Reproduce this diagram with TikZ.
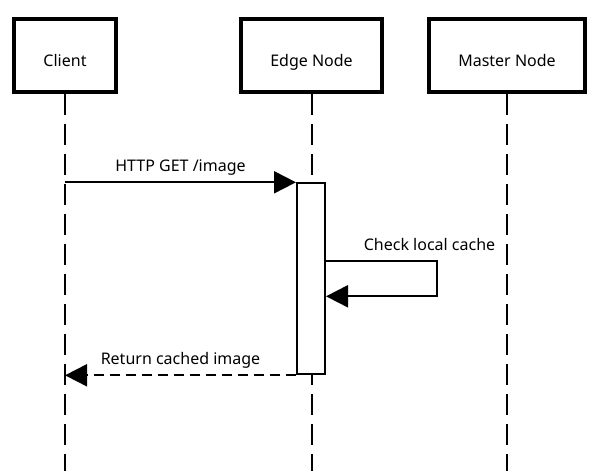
\documentclass[tikz,border=0pt]{standalone}
\usepackage{fontspec}
\setmainfont{Noto Sans}
\usepackage{tikz}
\usetikzlibrary{arrows.meta, positioning}
\tikzstyle{actor} = [rectangle, minimum height=73pt, text centered, text height=22pt, text depth=0pt, draw=black, line width=3.5pt, fill=white]
\tikzstyle{lifeline} = [line width=2pt, dash pattern=on 21pt off 9pt]
\tikzstyle{bar} = [rectangle, minimum width=28pt, minimum height=191pt, draw=black, line width=2pt, fill=white, inner sep=0pt]
\tikzstyle{msg} = [line width=2pt, -{Triangle[length=22pt,width=22pt]}]
\tikzstyle{reply} = [msg, dash pattern=on 10pt off 6pt]
\tikzstyle{lbl} = [above=9.5pt, inner sep=0pt, text depth=0pt]

\begin{document}
\begin{tikzpicture}[x=1pt, y=-1pt, font=\fontsize{16pt}{19pt}\selectfont]
\useasboundingbox (0,0) rectangle (599,471);
\node (client) [actor, minimum width=102pt] at (65,55.5) {Client};
\node (edge) [actor, minimum width=141pt] at (311.5,55.5) {Edge Node};
\node (master) [actor, minimum width=156pt] at (507,55.5) {Master Node};
\coordinate (bottom) at (0,471);
% lifelines
\draw [lifeline] (client.south) -- (client |- bottom);
\draw [lifeline] (edge.south) -- (edge |- bottom);
\draw [lifeline] (master.south) -- (master |- bottom);
\node (edgebar) [bar] at (311,278.8) {};
% messages
\draw [msg] (client |- edgebar.north) -- node[lbl] {HTTP GET /image} (edgebar.north west);
\draw [msg] ([yshift=17.5pt]edgebar.east) -- node[lbl, xshift=48pt] {Check local cache} ++(111,0) |- ([yshift=-17.5pt]edgebar.east);
\draw [reply] (edgebar.south west) -- node[lbl] {Return cached image} (client |- edgebar.south);
\end{tikzpicture}
\end{document}
